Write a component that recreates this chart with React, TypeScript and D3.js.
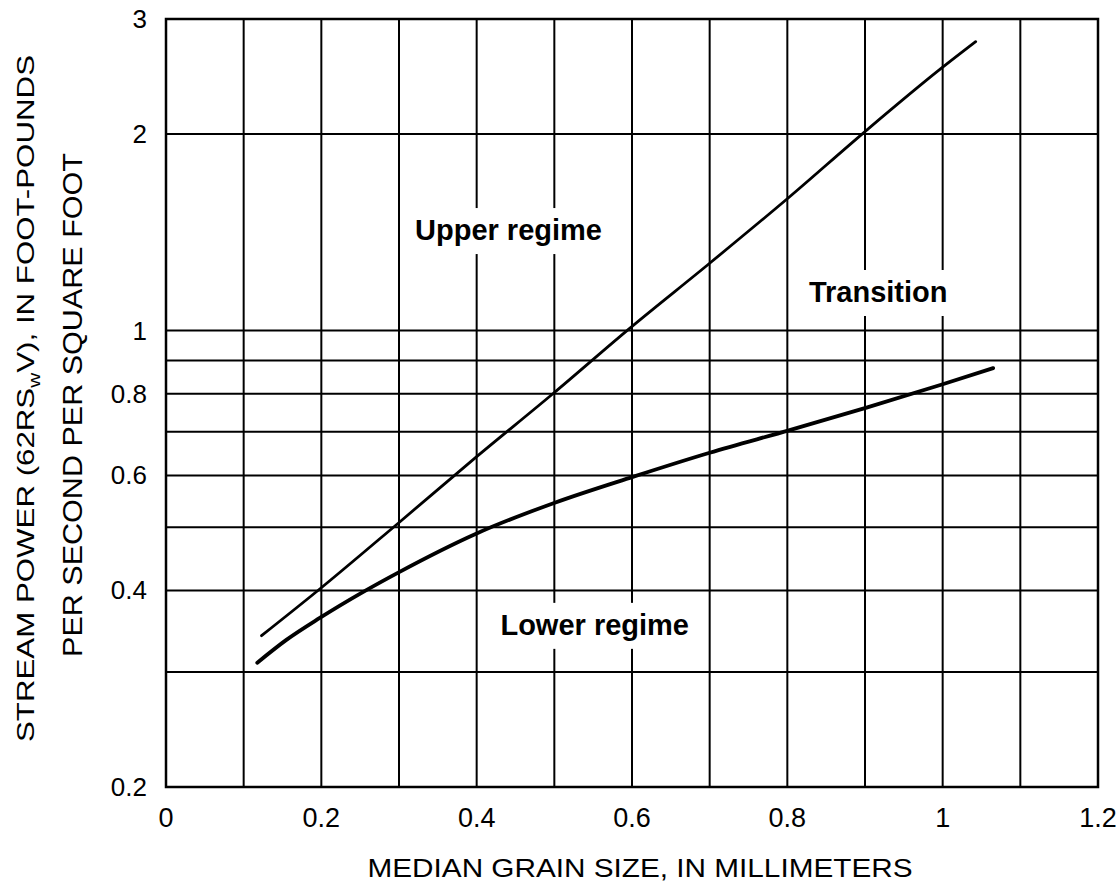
import React from "react";
import * as d3 from "d3";

// X grid / tick values (median grain size, mm)
const xGridValues = [0, 0.1, 0.2, 0.3, 0.4, 0.5, 0.6, 0.7, 0.8, 0.9, 1.0, 1.1, 1.2];
const xTickValues = [0, 0.2, 0.4, 0.6, 0.8, 1.0, 1.2];
const xTickLabels = ["0", "0.2", "0.4", "0.6", "0.8", "1", "1.2"];

// Y grid / tick values (stream power, log scale)
const yGridValues = [0.2, 0.3, 0.4, 0.5, 0.6, 0.7, 0.8, 0.9, 1, 2, 3];
const yTickValues = [0.2, 0.4, 0.6, 0.8, 1, 2, 3];
const yTickLabels = ["0.2", "0.4", "0.6", "0.8", "1", "2", "3"];

// Upper boundary (upper regime / transition)
const upperX = [0.123, 0.198, 0.299, 0.4, 0.4985, 0.597, 0.7, 0.803, 0.9, 0.998, 1.0425];
const upperY = [0.341, 0.402, 0.507, 0.641, 0.801, 1.008, 1.268, 1.603, 2.017, 2.52, 2.77];

// Lower boundary (transition / lower regime)
const lowerX = [0.1175, 0.155, 0.198, 0.254, 0.299, 0.4, 0.5006, 0.601, 0.7, 0.803, 0.902, 0.998, 1.065];
const lowerY = [0.31, 0.336, 0.363, 0.398, 0.426, 0.489, 0.545, 0.597, 0.65, 0.704, 0.762, 0.826, 0.876];

// Region labels (anchored at data coordinates, text baseline)
const regionNames = ["Upper regime", "Transition", "Lower regime"];
const regionX = [0.441, 0.917, 0.552];
const regionY = [1.376, 1.106, 0.342];
const regionBoxW = [200, 152, 206];

const W = 1116;
const H = 886;
const FONT = "'Liberation Sans', Arial, Helvetica, sans-serif";

export default function App() {
  const x = d3.scaleLinear().domain([0, 1.2]).range([166, 1098]);
  const y = d3.scaleLog().domain([0.2, 3]).range([787, 19]);

  const line = d3
    .line<[number, number]>()
    .x((d) => x(d[0]))
    .y((d) => y(d[1]))
    .curve(d3.curveMonotoneX);

  const upperPts = upperX.map((v, i) => [v, upperY[i]] as [number, number]);
  const lowerPts = lowerX.map((v, i) => [v, lowerY[i]] as [number, number]);

  const x0 = x(0), x1 = x(1.2), yTop = y(3), yBot = y(0.2);

  return (
    <svg
      width={W}
      height={H}
      viewBox={`0 0 ${W} ${H}`}
      style={{ position: "absolute", left: 0, top: 0, background: "#fff" }}
    >
      <rect x={0} y={0} width={W} height={H} fill="#fff" />
      {/* grid */}
      <g stroke="#000" strokeWidth={2}>
        {xGridValues.map((v) => (
          <line key={"gx" + v} x1={x(v)} x2={x(v)} y1={yTop} y2={yBot} />
        ))}
        {yGridValues.map((v) => (
          <line key={"gy" + v} x1={x0} x2={x1} y1={y(v)} y2={y(v)} />
        ))}
      </g>
      {/* frame */}
      <rect x={x0} y={yTop} width={x1 - x0} height={yBot - yTop} fill="none" stroke="#000" strokeWidth={2.5} />

      {/* region labels with white backing */}
      {regionNames.map((name, i) => {
        const cx = x(regionX[i]);
        const by = y(regionY[i]);
        return (
          <g key={name}>
            <rect x={cx - regionBoxW[i] / 2} y={by - 32} width={regionBoxW[i]} height={46} fill="#fff" />
            <text
              x={cx}
              y={by}
              textAnchor="middle"
              fontFamily={FONT}
              fontWeight="bold"
              fontSize={29}
              fill="#000"
            >
              {name}
            </text>
          </g>
        );
      })}

      {/* curves */}
      <path d={line(upperPts) || ""} fill="none" stroke="#000" strokeWidth={2.8} strokeLinecap="round" />
      <path d={line(lowerPts) || ""} fill="none" stroke="#000" strokeWidth={3.8} strokeLinecap="round" />

      {/* y tick labels */}
      {yTickValues.map((v, i) => (
        <text
          key={"yt" + v}
          x={147}
          y={y(v) + 9}
          textAnchor="end"
          fontFamily={FONT}
          fontSize={26}
          fill="#000"
        >
          {yTickLabels[i]}
        </text>
      ))}

      {/* x tick labels */}
      {xTickValues.map((v, i) => (
        <text
          key={"xt" + v}
          x={x(v)}
          y={827}
          textAnchor="middle"
          fontFamily={FONT}
          fontSize={27}
          fill="#000"
        >
          {xTickLabels[i]}
        </text>
      ))}

      {/* x axis title */}
      <text
        x={640}
        y={877}
        textAnchor="middle"
        fontFamily={FONT}
        fontSize={26}
        textLength={545}
        lengthAdjust="spacingAndGlyphs"
        fill="#000"
      >
        MEDIAN GRAIN SIZE, IN MILLIMETERS
      </text>

      {/* y axis title, two lines */}
      <text
        transform="translate(34,398.5) rotate(-90)"
        textAnchor="middle"
        fontFamily={FONT}
        fontSize={24}
        textLength={687}
        lengthAdjust="spacingAndGlyphs"
        fill="#000"
      >
        STREAM POWER (62RS
        <tspan fontSize={16} dy={6}>w</tspan>
        <tspan dy={-6}>V), IN FOOT-POUNDS</tspan>
      </text>
      <text
        transform="translate(82,405) rotate(-90)"
        textAnchor="middle"
        fontFamily={FONT}
        fontSize={27}
        textLength={504}
        lengthAdjust="spacingAndGlyphs"
        fill="#000"
      >
        PER SECOND PER SQUARE FOOT
      </text>
    </svg>
  );
}
